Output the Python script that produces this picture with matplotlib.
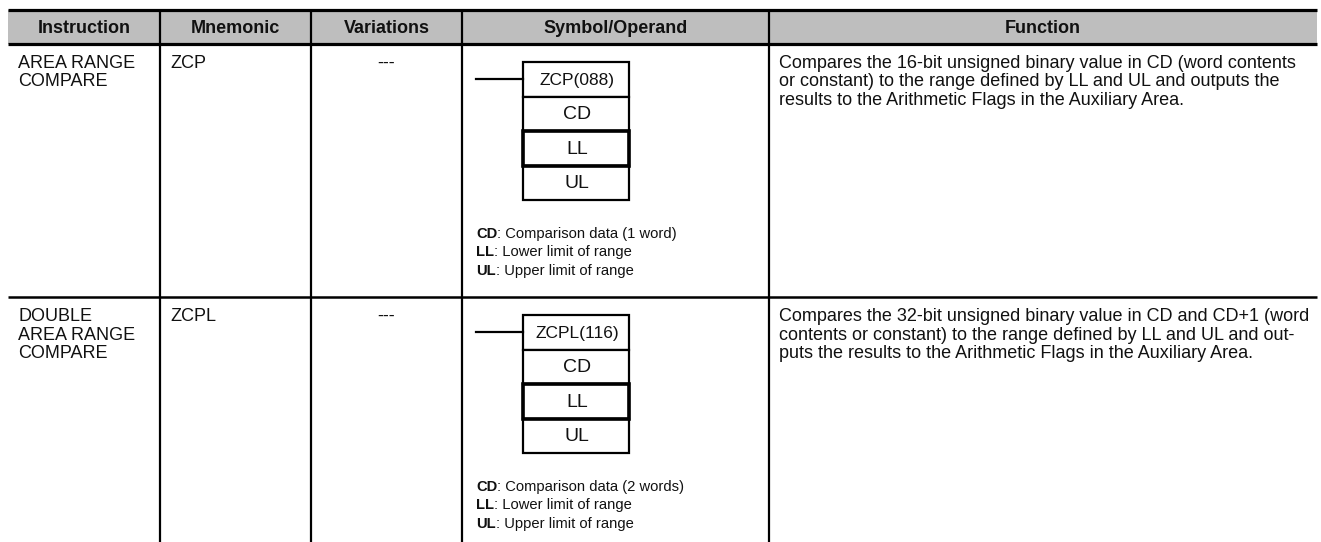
import matplotlib
matplotlib.use("Agg")
import matplotlib.pyplot as plt
from matplotlib.patches import Rectangle

plt.rcParams['font.family'] = ['Liberation Sans', 'DejaVu Sans']

# ---- data ----
headers = ["Instruction", "Mnemonic", "Variations", "Symbol/Operand", "Function"]
instructions = [["AREA RANGE", "COMPARE"], ["DOUBLE", "AREA RANGE", "COMPARE"]]
mnemonics = ["ZCP", "ZCPL"]
variations = ["---", "---"]
symbol_titles = ["ZCP(088)", "ZCPL(116)"]
operands = ["CD", "LL", "UL"]
operand_notes = [
    [("CD", ": Comparison data (1 word)"), ("LL", ": Lower limit of range"), ("UL", ": Upper limit of range")],
    [("CD", ": Comparison data (2 words)"), ("LL", ": Lower limit of range"), ("UL", ": Upper limit of range")],
]
functions = [
    ["Compares the 16-bit unsigned binary value in CD (word contents",
     "or constant) to the range defined by LL and UL and outputs the",
     "results to the Arithmetic Flags in the Auxiliary Area."],
    ["Compares the 32-bit unsigned binary value in CD and CD+1 (word",
     "contents or constant) to the range defined by LL and UL and out-",
     "puts the results to the Arithmetic Flags in the Auxiliary Area."],
]

# ---- layout (pixel coordinates) ----
W, H = 1321, 542
fig = plt.figure(figsize=(W / 100, H / 100), dpi=100)
ax = fig.add_axes([0, 0, 1, 1])
ax.set_xlim(0, W)
ax.set_ylim(H, 0)
ax.axis('off')

col_x = [8, 160, 311, 462, 769, 1317]
head_top, head_bot = 10, 44
row_tops = [44, 297]
table_bot = 542

ink = '#111111'
body_fs = 13.0
head_fs = 13.0
note_fs = 10.6
title_fs = 12.5
oper_fs = 14.0
line_h = 18.5
note_h = 18.3

# header
ax.add_patch(Rectangle((col_x[0], head_top), col_x[-1] - col_x[0], head_bot - head_top,
                       facecolor='#bebebe', edgecolor='none', zorder=0))
for i, h in enumerate(headers):
    ax.text((col_x[i] + col_x[i + 1]) / 2, 33, h,
            ha='center', va='baseline', fontsize=head_fs, fontweight='bold', color=ink)

ax.plot([col_x[0], col_x[-1]], [head_top, head_top], color='black', lw=2.3, solid_capstyle='butt')
ax.plot([col_x[0], col_x[-1]], [head_bot, head_bot], color='black', lw=2.3, solid_capstyle='butt')
ax.plot([col_x[0], col_x[-1]], [row_tops[1], row_tops[1]], color='black', lw=1.8, solid_capstyle='butt')
for x in col_x[1:-1]:
    ax.plot([x, x], [head_top, table_bot], color='black', lw=1.6, solid_capstyle='butt')

renderer = fig.canvas.get_renderer()
inv = ax.transData.inverted()

for r, top in enumerate(row_tops):
    by = top + 24
    for k, line in enumerate(instructions[r]):
        ax.text(18, by + k * line_h, line, ha='left', va='baseline', fontsize=body_fs, color=ink)
    ax.text(170, by, mnemonics[r], ha='left', va='baseline', fontsize=body_fs, color=ink)
    ax.text((col_x[2] + col_x[3]) / 2, by, variations[r], ha='center', va='baseline',
            fontsize=body_fs, color=ink)
    for k, line in enumerate(functions[r]):
        ax.text(779, by + k * line_h, line, ha='left', va='baseline', fontsize=body_fs, color=ink)

    # symbol
    bx0, bx1 = 523, 629
    btop = top + 18
    ch = 34.5
    cells = [symbol_titles[r]] + operands
    for c, lab in enumerate(cells):
        y0 = btop + c * ch
        ax.add_patch(Rectangle((bx0, y0), bx1 - bx0, ch, facecolor='white',
                               edgecolor='black', lw=1.6, zorder=2))
        ax.text((bx0 + bx1) / 2 + 1, y0 + ch / 2 + 1, lab, ha='center', va='center',
                fontsize=title_fs if c == 0 else oper_fs, color=ink, zorder=4)
    # thicker LL cell
    ll_y = btop + 2 * ch
    ax.add_patch(Rectangle((bx0, ll_y), bx1 - bx0, ch, facecolor='none',
                           edgecolor='black', lw=2.6, zorder=3))
    ax.plot([476, bx0], [btop + ch / 2, btop + ch / 2], color='black', lw=1.6, zorder=2)

    # notes
    ny = btop + 4 * ch + 38
    for k, (b, rest) in enumerate(operand_notes[r]):
        t = ax.text(476, ny + k * note_h, b, ha='left', va='baseline', fontsize=note_fs,
                    fontweight='bold', color=ink)
        bb = t.get_window_extent(renderer)
        xr = inv.transform((bb.x1, bb.y0))[0]
        ax.text(xr, ny + k * note_h, rest, ha='left', va='baseline', fontsize=note_fs,
                color=ink)

fig.savefig("out.png", dpi=100)
